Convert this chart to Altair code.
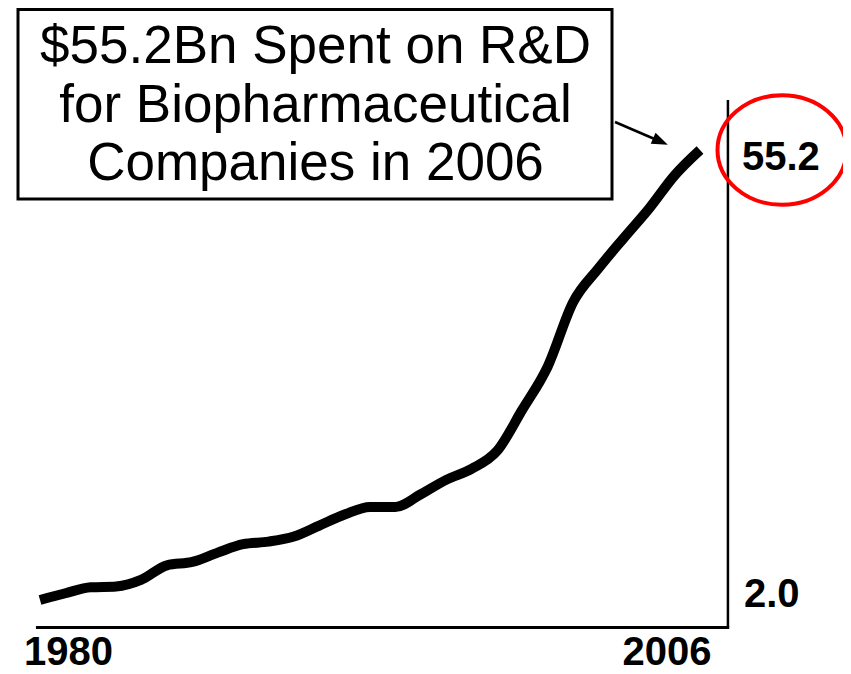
import altair as alt
import pandas as pd

# ---- data ----
years = list(range(1980, 2007))
spend_bn = [2.0, 2.8, 3.5, 3.6, 4.4, 6.1, 6.5, 7.6, 8.6, 8.9, 9.5, 10.8, 12.1, 13.0,
            13.0, 14.5, 16.2, 17.5, 19.6, 24.5, 29.6, 37.2, 41.2, 44.8, 48.3, 52.2, 55.2]

x_labels = ["1980", "2006"]
x_label_years = [1980, 2006]
y_labels = ["2.0", "55.2"]
y_label_values = [2.0, 55.2]

box_lines = ["$55.2Bn Spent on R&D", "for Biopharmaceutical", "Companies in 2006"]

df = pd.DataFrame({"year": years, "spend": spend_bn})

# ---- scales (whole canvas is the plot area) ----
W, H = 835, 666
xs = alt.Scale(domain=[1978.739, 2011.633], nice=False, zero=False)
ys = alt.Scale(domain=[-6.748, 71.984], nice=False, zero=False)

AXIS_X = 2007.1     # right axis position (year units)
AXIS_Y = -1.25      # bottom axis position (value units)
AXIS_TOP = 61.1
AXIS_LEFT = 1979.84

one = pd.DataFrame({"k": [0]})
FONT = "Liberation Sans, Arial, Helvetica, sans-serif"

line = alt.Chart(df).mark_line(
    color="black", strokeWidth=10, interpolate="monotone", strokeCap="butt"
).encode(
    x=alt.X("year:Q", scale=xs, axis=None),
    y=alt.Y("spend:Q", scale=ys, axis=None),
)

right_axis = alt.Chart(one).mark_rule(color="black", strokeWidth=2.5).encode(
    x=alt.datum(AXIS_X, scale=xs, axis=None),
    y=alt.datum(AXIS_Y, scale=ys, axis=None),
    y2=alt.datum(AXIS_TOP),
)
bottom_axis = alt.Chart(one).mark_rule(color="black", strokeWidth=3).encode(
    x=alt.datum(AXIS_LEFT, scale=xs, axis=None),
    x2=alt.datum(AXIS_X + 0.05),
    y=alt.datum(AXIS_Y, scale=ys, axis=None),
)

lab_style = dict(font=FONT, fontSize=40, fontWeight="bold", color="black")

lbl_1980 = alt.Chart(one).mark_text(align="left", baseline="alphabetic", dx=-16, dy=38, **lab_style).encode(
    x=alt.datum(x_label_years[0], scale=xs, axis=None),
    y=alt.datum(AXIS_Y, scale=ys, axis=None),
    text=alt.value(x_labels[0]),
)
lbl_2006 = alt.Chart(one).mark_text(align="center", baseline="alphabetic", dx=-33, dy=38, **lab_style).encode(
    x=alt.datum(x_label_years[1], scale=xs, axis=None),
    y=alt.datum(AXIS_Y, scale=ys, axis=None),
    text=alt.value(x_labels[1]),
)
lbl_2 = alt.Chart(one).mark_text(align="left", baseline="alphabetic", dx=16, dy=7, **lab_style).encode(
    x=alt.datum(AXIS_X, scale=xs, axis=None),
    y=alt.datum(y_label_values[0], scale=ys, axis=None),
    text=alt.value(y_labels[0]),
)
lbl_552 = alt.Chart(one).mark_text(align="left", baseline="alphabetic", dx=14, dy=20, **lab_style).encode(
    x=alt.datum(AXIS_X, scale=xs, axis=None),
    y=alt.datum(y_label_values[1], scale=ys, axis=None),
    text=alt.value(y_labels[1]),
)

# red ellipse around the final value
ELLIPSE = ("M -1 0 C -1 -0.4688 -0.5523 -0.849 0 -0.849 C 0.5523 -0.849 1 -0.4688 1 0 "
           "C 1 0.4688 0.5523 0.849 0 0.849 C -0.5523 0.849 -1 0.4688 -1 0 Z")
ring = alt.Chart(one).mark_point(
    shape=ELLIPSE, size=129 * 129, filled=False, stroke="#ff0000", strokeWidth=4, opacity=1
).encode(
    x=alt.value(774),
    y=alt.datum(y_label_values[1], scale=ys, axis=None),
)

# annotation box
box = alt.Chart(one).mark_rect(fill="white", stroke="black", strokeWidth=3).encode(
    x=alt.value(10), x2=alt.value(604), y=alt.value(1.5), y2=alt.value(191),
)
box_df = pd.DataFrame({"t": box_lines, "i": [0, 1, 2]})
box_text = alt.Chart(box_df).mark_text(
    font=FONT, fontSize=53, color="black", align="center", baseline="alphabetic"
).encode(
    x=alt.value(307.5),
    y=alt.Y("i:Q", scale=alt.Scale(domain=[0, 2], range=[55, 172]), axis=None),
    text="t:N",
)

# arrow from box to end of the line
arrow_line = alt.Chart(one).mark_rule(color="black", strokeWidth=2.5).encode(
    x=alt.value(607), y=alt.value(114), x2=alt.value(650), y2=alt.value(132.5),
)
ARROW = "M -1 -0.75 L 1 0 L -1 0.75 Z"
arrow_head = alt.Chart(one).mark_point(
    shape=ARROW, size=256, filled=True, color="black", angle=23.5, opacity=1
).encode(
    x=alt.value(652.5), y=alt.value(133.5),
)

chart = alt.layer(
    line, right_axis, bottom_axis, lbl_1980, lbl_2006, lbl_2, lbl_552, ring,
    box, box_text, arrow_line, arrow_head,
).resolve_scale(y="independent").properties(
    width=W, height=H, padding=0, autosize=alt.AutoSizeParams(type="none"),
    background="white",
).configure_view(stroke=None)

chart.save("out.html", embed_options={"renderer": "svg", "actions": False})
